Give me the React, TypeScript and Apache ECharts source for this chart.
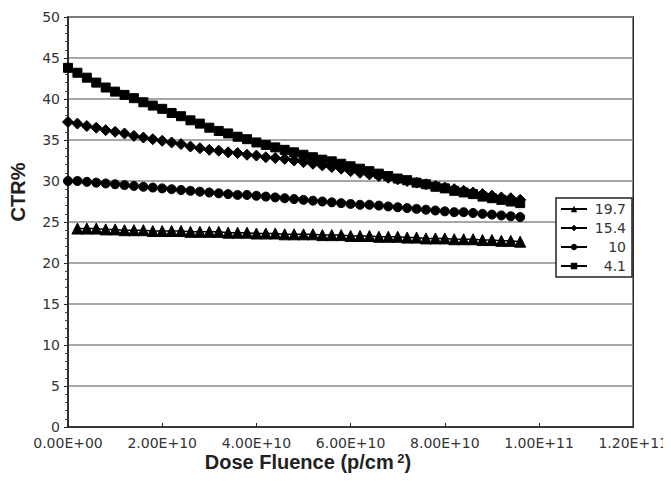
import React, { useEffect, useRef } from "react";
import * as echarts from "echarts";

const xValues = [
  0, 2e9, 4e9, 6e9, 8e9, 10e9, 12e9, 14e9, 16e9, 18e9, 20e9, 22e9, 24e9, 26e9, 28e9, 30e9,
  32e9, 34e9, 36e9, 38e9, 40e9, 42e9, 44e9, 46e9, 48e9, 50e9, 52e9, 54e9, 56e9, 58e9, 60e9,
  62e9, 64e9, 66e9, 68e9, 70e9, 72e9, 74e9, 76e9, 78e9, 80e9, 82e9, 84e9, 86e9, 88e9, 90e9,
  92e9, 94e9, 96e9,
];

const s197 = [
  null, 24.2, 24.2, 24.2, 24.1, 24.1, 24.0, 24.0, 24.0, 23.9, 23.9, 23.9, 23.9, 23.8, 23.8, 23.8,
  23.8, 23.7, 23.7, 23.7, 23.6, 23.6, 23.6, 23.5, 23.5, 23.5, 23.5, 23.4, 23.4, 23.4, 23.3,
  23.3, 23.3, 23.2, 23.2, 23.2, 23.1, 23.1, 23.0, 23.0, 23.0, 22.9, 22.9, 22.9, 22.8, 22.8,
  22.7, 22.7, 22.6,
];

const s154 = [
  37.2, 37.0, 36.7, 36.5, 36.2, 36.0, 35.8, 35.5, 35.3, 35.1, 34.9, 34.7, 34.5, 34.2, 34.0, 33.8,
  33.7, 33.5, 33.4, 33.2, 33.1, 32.9, 32.8, 32.7, 32.5, 32.3, 32.1, 31.9, 31.7, 31.5, 31.2,
  31.0, 30.8, 30.6, 30.4, 30.2, 30.0, 29.8, 29.6, 29.4, 29.2, 29.0, 28.8, 28.6, 28.4, 28.2,
  28.0, 27.9, 27.7,
];

const s10 = [
  30.0, 30.0, 29.9, 29.8, 29.7, 29.6, 29.5, 29.4, 29.3, 29.2, 29.1, 29.0, 28.9, 28.8, 28.7, 28.6,
  28.5, 28.4, 28.3, 28.3, 28.2, 28.1, 28.0, 27.9, 27.8, 27.7, 27.6, 27.5, 27.4, 27.3, 27.2,
  27.1, 27.1, 27.0, 26.9, 26.8, 26.7, 26.6, 26.5, 26.4, 26.3, 26.2, 26.2, 26.1, 26.0, 25.9,
  25.8, 25.7, 25.6,
];

const s41 = [
  43.8, 43.2, 42.6, 42.0, 41.4, 40.9, 40.5, 40.1, 39.6, 39.2, 38.8, 38.3, 37.9, 37.4, 37.0, 36.5,
  36.1, 35.8, 35.4, 35.1, 34.7, 34.4, 34.1, 33.8, 33.5, 33.2, 32.9, 32.6, 32.4, 32.1, 31.8,
  31.5, 31.2, 30.9, 30.6, 30.3, 30.1, 29.8, 29.6, 29.3, 29.1, 28.8, 28.6, 28.4, 28.1, 27.9,
  27.7, 27.5, 27.3,
];

const seriesNames = ["19.7", "15.4", "10", "4.1"];
const xTickLabels = ["0.00E+00", "2.00E+10", "4.00E+10", "6.00E+10", "8.00E+10", "1.00E+11", "1.20E+11"];

const FONT = "'Liberation Sans', Arial, Helvetica, sans-serif";
const TICKFONT = "'DejaVu Sans', Verdana, sans-serif";

export default function App() {
  const ref = useRef<HTMLDivElement>(null);

  useEffect(() => {
    if (!ref.current) return;
    const chart = echarts.init(ref.current, undefined, { renderer: "svg" });

    const pair = (arr: (number | null)[]) => xValues.map((x, i) => [x, arr[i]]);

    const mk = (name: string, arr: (number | null)[], symbol: string, size: number) => ({
      name,
      type: "line",
      data: pair(arr),
      symbol,
      symbolSize: size,
      showSymbol: true,
      connectNulls: false,
      lineStyle: { color: "#000", width: 1.5 },
      itemStyle: { color: "#000", borderColor: "#000" },
      z: 3,
    });

    chart.setOption({
      animation: false,
      backgroundColor: "#fff",
      grid: {
        left: 68,
        right: 31,
        top: 17,
        bottom: 54,
        show: true,
        borderColor: "#222",
        borderWidth: 1.5,
        backgroundColor: "transparent",
      },
      xAxis: {
        type: "value",
        min: 0,
        max: 1.2e11,
        interval: 2e10,
        axisLine: { show: true, lineStyle: { color: "#222", width: 1.5 } },
        axisTick: { show: true, inside: true, length: 4, lineStyle: { color: "#222" } },
        splitLine: { show: false },
        axisLabel: {
          color: "#333",
          fontSize: 14,
          fontFamily: TICKFONT,
          margin: 9,
          formatter: (v: number) => xTickLabels[Math.round(v / 2e10)],
        },
      },
      yAxis: {
        type: "value",
        min: 0,
        max: 50,
        interval: 5,
        axisLine: { show: true, lineStyle: { color: "#222", width: 1.5 } },
        axisTick: { show: true, length: 4, lineStyle: { color: "#222" } },
        minorTick: { show: true, splitNumber: 5, length: 3, lineStyle: { color: "#444" } },
        splitLine: { show: true, lineStyle: { color: "#8a8a8a", width: 1.5 } },
        axisLabel: { color: "#333", fontSize: 14, fontFamily: TICKFONT, margin: 8, padding: [0, 0, 3, 0] },
      },
      legend: {
        orient: "vertical",
        left: 556,
        top: 198,
        data: seriesNames,
        itemWidth: 26,
        itemHeight: 8,
        itemGap: 5,
        padding: [4, 6, 4, 4],
        borderColor: "#222",
        borderWidth: 1.5,
        backgroundColor: "#fff",
        formatter: (n: string) => `{a|${n}}`,
        textStyle: {
          rich: {
            a: { width: 34, align: "right", fontSize: 14, color: "#333", fontFamily: TICKFONT },
          },
        },
      },
      graphic: [
        {
          type: "text",
          x: 18,
          y: 192,
          rotation: Math.PI / 2,
          style: {
            text: "CTR%",
            fontSize: 20,
            fontWeight: "bold",
            fontFamily: FONT,
            fill: "#222",
            align: "center",
            verticalAlign: "middle",
          },
        },
        {
          type: "text",
          x: 308,
          y: 452,
          style: {
            text: "{a|Dose Fluence (p/cm}{s| 2}{a|)}",
            align: "center",
            verticalAlign: "top",
            rich: {
              a: { fontSize: 20, fontWeight: "bold", fontFamily: FONT, fill: "#222" },
              s: { fontSize: 13, fontWeight: "bold", fontFamily: FONT, fill: "#222", verticalAlign: "top" },
            },
          },
        },
      ],
      series: [
        mk("19.7", s197, "triangle", 11),
        mk("15.4", s154, "diamond", 11),
        mk("10", s10, "circle", 9),
        mk("4.1", s41, "rect", 9),
      ],
    });

    return () => chart.dispose();
  }, []);

  return <div ref={ref} style={{ width: 671, height: 481, margin: -8 }} />;
}
